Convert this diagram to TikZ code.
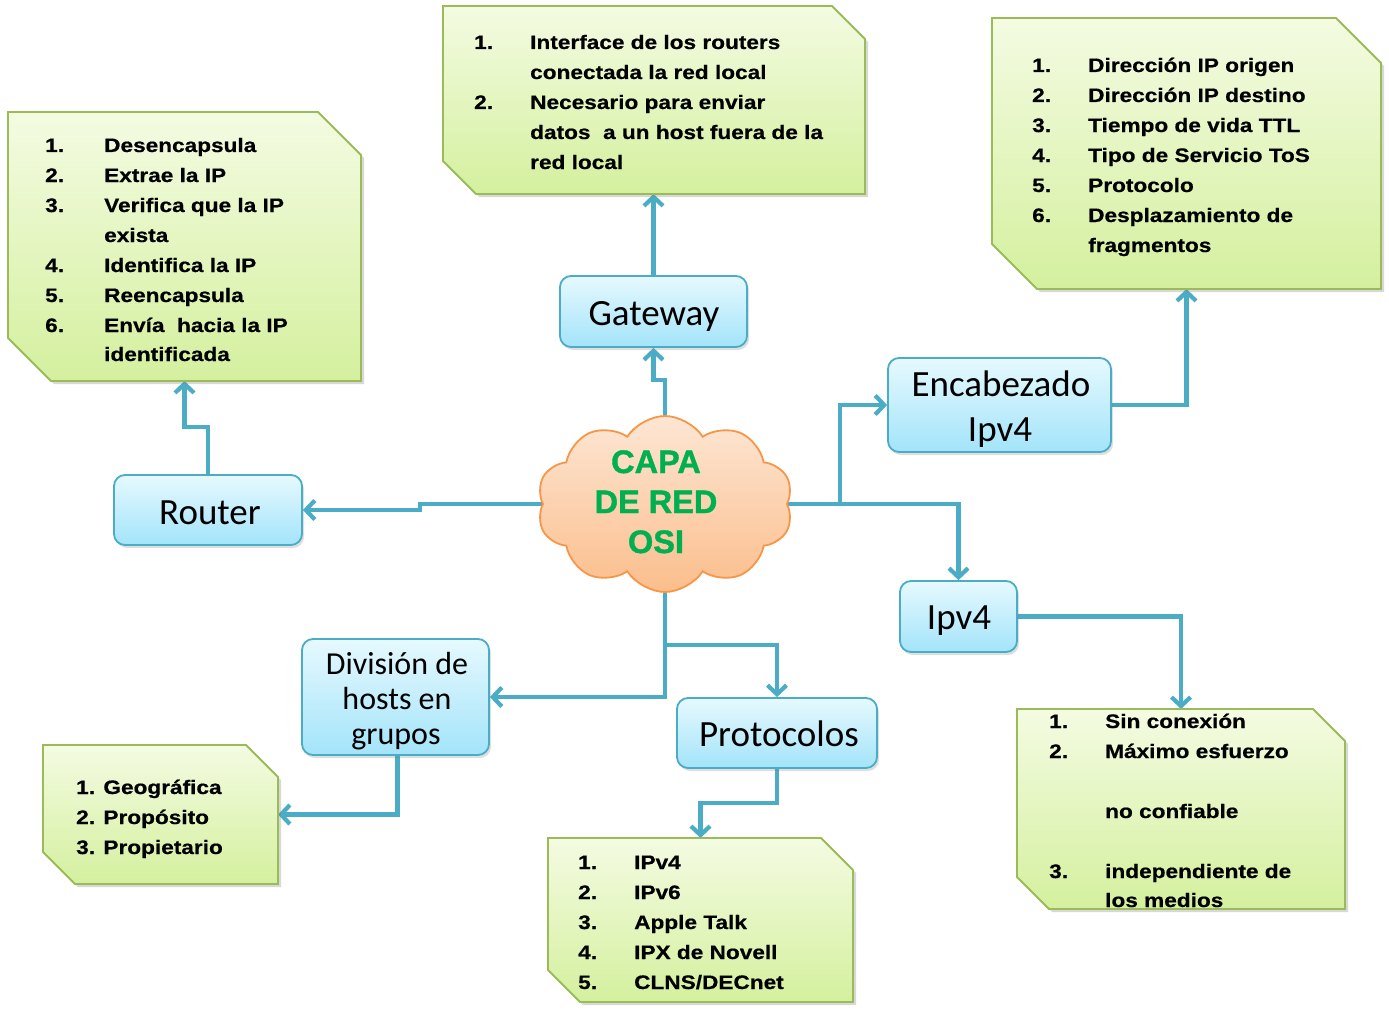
\documentclass[tikz,border=0pt]{standalone}
\usepackage{fontspec}
\setmainfont{Liberation Sans}
\newfontfamily\notefont{Liberation Sans}[FakeStretch=1.16,FakeBold=0.6]
\newfontfamily\cloudfont{Liberation Sans}[FakeBold=1.2]
\newfontfamily\boxfont{Carlito}
\usetikzlibrary{shapes.symbols,shadows,arrows.meta,calc}
\definecolor{conncol}{RGB}{75,172,198}
\definecolor{noteborder}{RGB}{155,187,89}
\definecolor{notetop}{RGB}{244,251,226}
\definecolor{notebot}{RGB}{212,240,158}
\definecolor{boxtop}{RGB}{230,249,254}
\definecolor{boxbot}{RGB}{163,228,250}
\definecolor{cloudtop}{RGB}{253,230,212}
\definecolor{cloudbot}{RGB}{251,190,140}
\definecolor{cloudborder}{RGB}{247,150,70}
\definecolor{cloudtext}{RGB}{0,176,80}
\pgfdeclarelayer{back}
\pgfdeclarelayer{bg}
\pgfsetlayers{back,bg,main}
\tikzset{
  conn/.style={draw=conncol,line width=4.2pt,-{Straight Barb[length=9pt,width=19pt]}},
  bluebox/.style={draw=conncol,line width=1.8pt,rounded corners=11pt,top color=boxtop,bottom color=boxbot,
    drop shadow={shadow xshift=2pt,shadow yshift=-3pt,opacity=.25},inner sep=0pt},
  bt/.style={anchor=base,inner sep=0pt,font=\boxfont\fontsize{37}{45}\selectfont},
  bts/.style={anchor=base,inner sep=0pt,font=\boxfont\fontsize{32}{35}\selectfont},
  ct/.style={anchor=base,inner sep=0pt,text=cloudtext,font=\cloudfont\bfseries\fontsize{32.5}{40}\selectfont},
  noteframe/.style={rectangle,draw=none,inner sep=0pt,outer sep=0pt},
  notefill/.style={draw=noteborder,line width=1.8pt,top color=notetop,bottom color=notebot,
    drop shadow={shadow xshift=3pt,shadow yshift=-3pt,opacity=.3}},
  lt/.style={anchor=base west,inner sep=0pt,font=\notefont\bfseries\fontsize{19.5}{30}\selectfont},
}
\newcommand\mknote[6]{%
  \node[noteframe,minimum width={#4-#2},minimum height={#5-#3}] (#1) at ({(#2+#4)/2},{(#3+#5)/2}) {};
  \path[notefill] (#2,#3) -- ({#4-#6},#3) -- (#4,{#3+#6}) -- (#4,#5) -- ({#2+#6},#5) -- (#2,{#5-#6}) -- cycle;}
\begin{document}
\begin{tikzpicture}[x=1pt,y=-1pt]
\begin{pgfonlayer}{back}
\path[fill=white] (0,0) rectangle (1389,1014);
\end{pgfonlayer}
\useasboundingbox (0,0) rectangle (1389,1014);

% cloud
\node[cloud,cloud puffs=10,cloud puff arc=115,aspect=1.46,minimum width=256,minimum height=176,
  draw=cloudborder,line width=1.8pt,top color=cloudtop,bottom color=cloudbot,inner sep=0pt] (cloud) at (665,504) {};
\node[ct] (cl1) at (656,473) {CAPA};
\node[ct] (cl2) at (656,513) {DE RED};
\node[ct] (cl3) at (656,553) {OSI};

% blue boxes
\node[bluebox,minimum width=187,minimum height=71] (gw) at (653.5,311.5) {};
\node[bt] (gwt) at (654,325) {Gateway};
\node[bluebox,minimum width=188,minimum height=70] (rt) at (208,510) {};
\node[bt] (rtt) at (210,524) {Router};
\node[bluebox,minimum width=223,minimum height=94] (enc) at (999.5,405) {};
\node[bt] (enct1) at (1001,396) {Encabezado};
\node[bt] (enct2) at (1000,441) {Ipv4};
\node[bluebox,minimum width=117,minimum height=71] (ip) at (958.5,616.5) {};
\node[bt] (ipt) at (959,629) {Ipv4};
\node[bluebox,minimum width=187,minimum height=116] (dv) at (395.5,697) {};
\node[bts] (dvt1) at (397,674) {División de};
\node[bts] (dvt2) at (397,709) {hosts en};
\node[bts] (dvt3) at (396,744) {grupos};
\node[bluebox,minimum width=200,minimum height=70] (pr) at (777,733) {};
\node[bt] (prt) at (779,746) {Protocolos};

% notes
\mknote{rn}{8}{112}{361}{381}{43}
\mknote{gwn}{443}{6}{865}{194}{33}
\mknote{en}{992}{18}{1381}{289}{45}
\mknote{dvn}{43}{745}{278}{884}{32}
\mknote{prn}{548}{838}{853}{1002}{32}
\mknote{ipn}{1017}{709}{1345}{909}{32}

% router note text
\node[lt] (rn1n) at (45,152) {1.};  \node[lt] (rn1t) at (104,152) {Desencapsula};
\node[lt] (rn2n) at (45,182) {2.};  \node[lt] (rn2t) at (104,182) {Extrae la IP};
\node[lt] (rn3n) at (45,212) {3.};  \node[lt] (rn3t) at (104,212) {Verifica que la IP};
\node[lt] (rn3u) at (104,242) {exista};
\node[lt] (rn4n) at (45,272) {4.};  \node[lt] (rn4t) at (104,272) {Identifica la IP};
\node[lt] (rn5n) at (45,302) {5.};  \node[lt] (rn5t) at (104,302) {Reencapsula};
\node[lt] (rn6n) at (45,332) {6.};  \node[lt] (rn6t) at (104,332) {Envía\ \ hacia la IP};
\node[lt] (rn6u) at (104,361) {identificada};

% gateway note text
\node[lt] (g1n) at (474,49) {1.};  \node[lt] (g1t) at (530,49) {Interface de los routers};
\node[lt] (g1u) at (530,79) {conectada la red local};
\node[lt] (g2n) at (474,109) {2.}; \node[lt] (g2t) at (530,109) {Necesario para enviar};
\node[lt] (g2u) at (530,139) {datos\ \ a un host fuera de la};
\node[lt] (g2v) at (530,169) {red local};

% encabezado note text
\node[lt] (e1n) at (1032,72) {1.};  \node[lt] (e1t) at (1088,72) {Dirección IP origen};
\node[lt] (e2n) at (1032,102) {2.}; \node[lt] (e2t) at (1088,102) {Dirección IP destino};
\node[lt] (e3n) at (1032,132) {3.}; \node[lt] (e3t) at (1088,132) {Tiempo de vida TTL};
\node[lt] (e4n) at (1032,162) {4.}; \node[lt] (e4t) at (1088,162) {Tipo de Servicio ToS};
\node[lt] (e5n) at (1032,192) {5.}; \node[lt] (e5t) at (1088,192) {Protocolo};
\node[lt] (e6n) at (1032,222) {6.}; \node[lt] (e6t) at (1088,222) {Desplazamiento de};
\node[lt] (e6u) at (1088,252) {fragmentos};

% division note text
\node[lt] (d1) at (76,794) {1. Geográfica};
\node[lt] (d2) at (76,824) {2. Propósito};
\node[lt] (d3) at (76,854) {3. Propietario};

% protocolos note text
\node[lt] (p1n) at (578,869) {1.}; \node[lt] (p1t) at (634,869) {IPv4};
\node[lt] (p2n) at (578,899) {2.}; \node[lt] (p2t) at (634,899) {IPv6};
\node[lt] (p3n) at (578,929) {3.}; \node[lt] (p3t) at (634,929) {Apple Talk};
\node[lt] (p4n) at (578,959) {4.}; \node[lt] (p4t) at (634,959) {IPX de Novell};
\node[lt] (p5n) at (578,989) {5.}; \node[lt] (p5t) at (634,989) {CLNS/DECnet};

% ipv4 note text
\node[lt] (i1n) at (1049,728) {1.}; \node[lt] (i1t) at (1105,728) {Sin conexión};
\node[lt] (i2n) at (1049,758) {2.}; \node[lt] (i2t) at (1105,758) {Máximo esfuerzo};
\node[lt] (i2u) at (1105,818) {no confiable};
\node[lt] (i3n) at (1049,878) {3.}; \node[lt] (i3t) at (1105,878) {independiente de};
\node[lt] (i3u) at (1105,907) {los medios};

% connectors
\begin{pgfonlayer}{bg}
\coordinate (cgw) at (665,380);
\coordinate (crt) at (420,504);
\coordinate (cenc) at (840,504);
\coordinate (cpr) at (665,645);
\draw[conn] (cloud.center) -- (cgw) -| (gw.south);
\draw[conn] (gw.north) -- (gw.north |- gwn.south);
\draw[conn] (cloud.center) -- (crt) |- (rt.east);
\draw[conn] (rt.north) -- ++(0,-47) -| (rn.south);
\draw[conn] (cloud.center) -- (cenc) |- (enc.west);
\draw[conn] (cloud.center) -| (ip.north);
\draw[conn] (enc.east) -| (en.south);
\draw[conn] (ip.east) -| (ipn.north);
\draw[conn] (cloud.center) |- (dv.east);
\draw[conn] (cloud.center) -- (cpr) -| (pr.north);
\draw[conn] ([xshift=2pt]dv.south) |- (dvn.east);
\draw[conn] (pr.south) -- ++(0,34) -| (prn.north);
\end{pgfonlayer}
\end{tikzpicture}
\end{document}
